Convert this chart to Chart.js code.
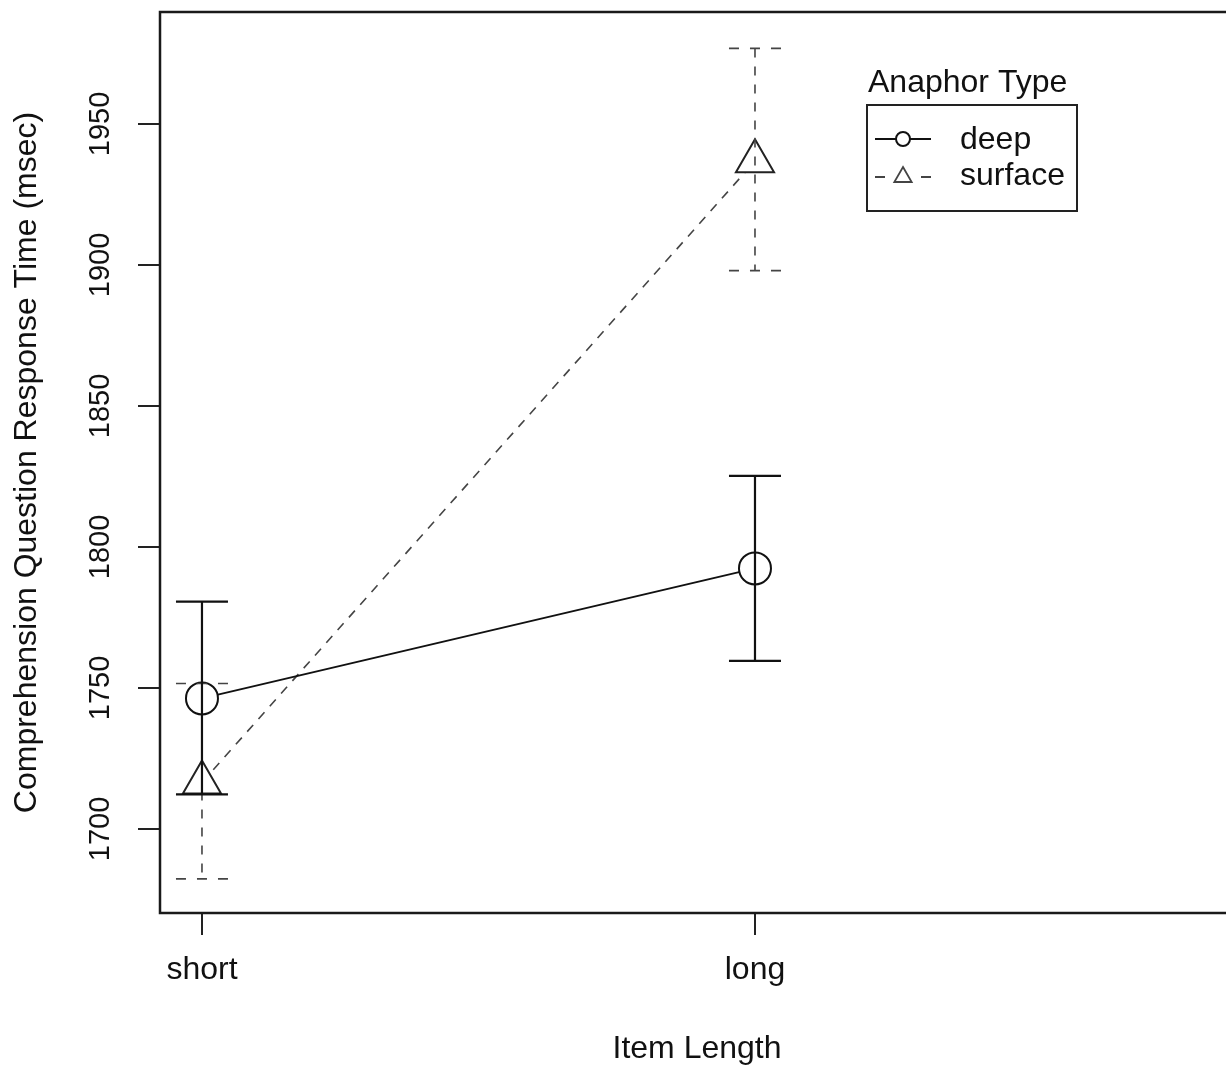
<!DOCTYPE html>
<html>
<head>
<meta charset="utf-8">
<script src="https://cdn.jsdelivr.net/npm/chart.js@4.4.1/dist/chart.umd.min.js"></script>
<style>
  html, body { margin: 0; padding: 0; background: #fff; overflow: hidden; }
  #frame-box { width: 1226px; height: 1068px; overflow: hidden; }
  #rt-chart { display: block; }
</style>
</head>
<body>
<div id="frame-box"><canvas id="rt-chart" width="1240" height="1068"></canvas></div>
<script>
const categories = ['short', 'long'];
const catPositions = [1, 2];
const deepMeans = [1746.3, 1792.4];
const deepLow = [1712.3, 1759.6];
const deepHigh = [1780.6, 1825.2];
const surfaceMeans = [1716.5, 1936.8];
const surfaceLow = [1682.3, 1898.0];
const surfaceHigh = [1751.6, 1976.8];
const yTicks = [1700, 1750, 1800, 1850, 1900, 1950];

const FONT = '"Liberation Sans", Arial, sans-serif';
const INK = '#111';
const GREY = '#444';

// error bars drawn on top of the lines, from the scales
const errorBars = {
  id: 'errorBars',
  afterDatasetsDraw(chart) {
    const { ctx, scales: { x, y } } = chart;
    const sets = [
      { low: surfaceLow, high: surfaceHigh, color: GREY, width: 1.6, dash: [9, 9] },
      { low: deepLow, high: deepHigh, color: INK, width: 2.2, dash: [] },
    ];
    ctx.save();
    sets.forEach(s => {
      ctx.strokeStyle = s.color;
      ctx.lineWidth = s.width;
      catPositions.forEach((c, i) => {
        const px = x.getPixelForValue(c);
        const top = y.getPixelForValue(s.high[i]);
        const bot = y.getPixelForValue(s.low[i]);
        ctx.setLineDash(s.dash);
        ctx.beginPath();
        ctx.moveTo(px, top);
        ctx.lineTo(px, bot);
        ctx.stroke();
        ctx.setLineDash(s.dash.length ? [10, 11] : []);
        ctx.beginPath();
        ctx.moveTo(px - 26, top); ctx.lineTo(px + 26, top);
        ctx.moveTo(px - 26, bot); ctx.lineTo(px + 26, bot);
        ctx.stroke();
      });
    });
    ctx.restore();
  }
};

// box around the plot region
const frame = {
  id: 'frame',
  beforeDatasetsDraw(chart) {
    const { ctx, chartArea: a } = chart;
    ctx.save();
    ctx.strokeStyle = '#1a1a1a';
    ctx.lineWidth = 2.5;
    ctx.strokeRect(a.left, a.top, a.right - a.left, a.bottom - a.top);
    ctx.restore();
  }
};

// R style legend with its title above the box
const rLegend = {
  id: 'rLegend',
  afterDraw(chart) {
    const ctx = chart.ctx;
    ctx.save();
    ctx.fillStyle = INK;
    ctx.font = '32px ' + FONT;
    ctx.textBaseline = 'alphabetic';
    ctx.fillText('Anaphor Type', 868, 92);
    ctx.strokeStyle = '#222';
    ctx.lineWidth = 2;
    ctx.strokeRect(867, 105, 210, 106);

    ctx.textBaseline = 'middle';
    ctx.fillText('deep', 960, 140);
    ctx.fillText('surface', 960, 176);

    ctx.strokeStyle = INK;
    ctx.lineWidth = 2;
    ctx.beginPath();
    ctx.moveTo(875, 139); ctx.lineTo(931, 139);
    ctx.stroke();
    ctx.beginPath();
    ctx.arc(903, 139, 7, 0, Math.PI * 2);
    ctx.fillStyle = '#fff';
    ctx.fill();
    ctx.stroke();

    ctx.strokeStyle = GREY;
    ctx.lineWidth = 1.8;
    ctx.beginPath();
    ctx.moveTo(875, 177); ctx.lineTo(885, 177);
    ctx.moveTo(921, 177); ctx.lineTo(931, 177);
    ctx.stroke();
    const r = 10;
    ctx.beginPath();
    ctx.moveTo(903, 177 - r);
    ctx.lineTo(903 + r * 0.866, 177 + r / 2);
    ctx.lineTo(903 - r * 0.866, 177 + r / 2);
    ctx.closePath();
    ctx.stroke();
    ctx.restore();
  }
};

const toPoints = arr => arr.map((v, i) => ({ x: catPositions[i], y: v }));

new Chart(document.getElementById('rt-chart'), {
  type: 'line',
  data: {
    datasets: [
      {
        label: 'deep',
        data: toPoints(deepMeans),
        borderColor: INK,
        borderWidth: 2,
        pointStyle: 'circle',
        pointRadius: 16,
        pointBorderWidth: 2,
        pointBorderColor: INK,
        pointBackgroundColor: '#fff',
      },
      {
        label: 'surface',
        data: toPoints(surfaceMeans),
        borderColor: GREY,
        borderWidth: 1.6,
        borderDash: [9, 8],
        pointStyle: 'triangle',
        pointRadius: 22,
        pointBorderWidth: 2,
        pointBorderColor: '#222',
        pointBackgroundColor: '#fff',
      },
    ]
  },
  options: {
    responsive: false,
    animation: false,
    layout: { autoPadding: false, padding: { top: 12, right: 6, bottom: 0, left: 0 } },
    scales: {
      x: {
        type: 'linear',
        min: 0.9241,
        max: 2.8662,
        afterFit: s => { s.height = 155; s.paddingLeft = 0; s.paddingRight = 0; },
        afterBuildTicks: s => { s.ticks = catPositions.map(v => ({ value: v })); },
        border: { display: false },
        grid: { drawOnChartArea: false, drawTicks: true, tickLength: 22, color: '#222', lineWidth: 2 },
        ticks: {
          autoSkip: false,
          maxRotation: 0,
          padding: 16,
          color: INK,
          font: { family: FONT, size: 32 },
          callback: v => categories[catPositions.indexOf(v)] || '',
        },
        title: {
          display: true,
          text: 'Item Length',
          color: INK,
          font: { family: FONT, size: 32 },
          padding: { top: 0, bottom: 0 },
        },
      },
      y: {
        min: 1670.2,
        max: 1989.7,
        afterFit: s => { s.width = 160; s.paddingTop = 0; s.paddingBottom = 0; },
        afterBuildTicks: s => { s.ticks = yTicks.map(v => ({ value: v })); },
        border: { display: false },
        grid: { drawOnChartArea: false, drawTicks: true, tickLength: 22, color: '#222', lineWidth: 2 },
        ticks: {
          autoSkip: false,
          minRotation: 90,
          maxRotation: 90,
          crossAlign: 'center',
          padding: 5,
          color: INK,
          font: { family: FONT, size: 29 },
          callback: v => String(v),
        },
        title: {
          display: true,
          text: 'Comprehension Question Response Time (msec)',
          color: INK,
          font: { family: FONT, size: 32 },
          padding: { top: 8, bottom: 0 },
        },
      },
    },
    plugins: {
      legend: { display: false },
      tooltip: { enabled: false },
    },
  },
  plugins: [frame, errorBars, rLegend],
});
</script>
</body>
</html>
